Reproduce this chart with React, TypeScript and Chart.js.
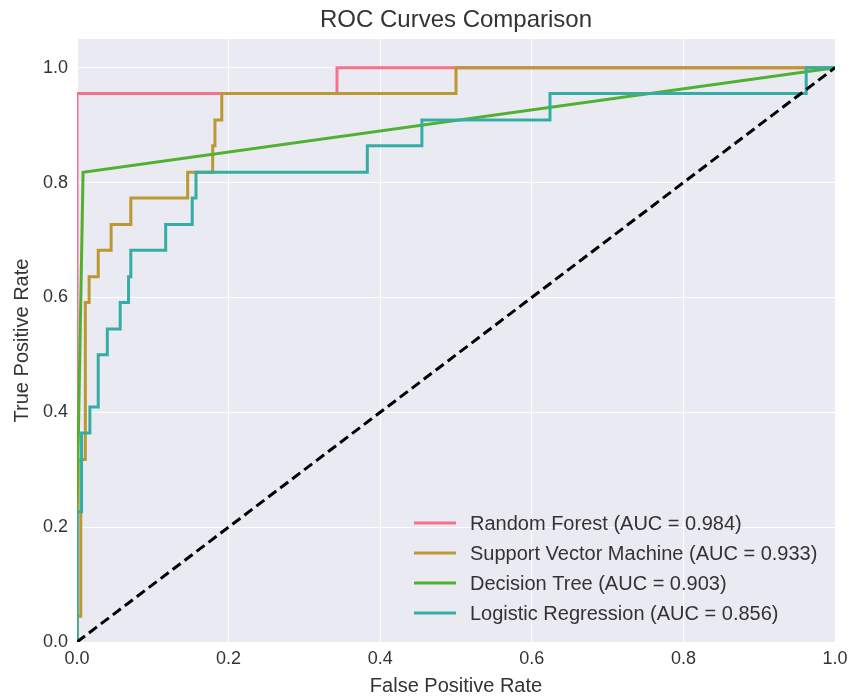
import React, { useEffect, useRef } from 'react';
import { Chart, registerables } from 'chart.js';

Chart.register(...registerables);

const TITLE = 'ROC Curves Comparison';
const X_TITLE = 'False Positive Rate';
const Y_TITLE = 'True Positive Rate';
const X_TICKS = [0, 0.2, 0.4, 0.6, 0.8, 1.0];
const Y_TICKS = [0, 0.2, 0.4, 0.6, 0.8, 1.0];

const SERIES_NAMES = [
  'Random Forest (AUC = 0.984)',
  'Support Vector Machine (AUC = 0.933)',
  'Decision Tree (AUC = 0.903)',
  'Logistic Regression (AUC = 0.856)',
];
const SERIES_COLORS = ['#f77189', '#bb9832', '#50b131', '#36ada4'];

const RF_FPR = [0, 0, 0.343, 0.343, 1];
const RF_TPR = [0, 0.955, 0.955, 1, 1];

const SVM_FPR = [0, 0, 0.005, 0.005, 0.011, 0.011, 0.016, 0.016, 0.028, 0.028, 0.045, 0.045, 0.071, 0.071, 0.146, 0.146, 0.179, 0.179, 0.182, 0.182, 0.191, 0.191, 0.5, 0.5, 1];
const SVM_TPR = [0, 0.045, 0.045, 0.318, 0.318, 0.591, 0.591, 0.636, 0.636, 0.682, 0.682, 0.727, 0.727, 0.773, 0.773, 0.818, 0.818, 0.864, 0.864, 0.909, 0.909, 0.955, 0.955, 1, 1];

const DT_FPR = [0, 0, 0.008, 1];
const DT_TPR = [0, 0.227, 0.818, 1];

const LR_FPR = [0, 0, 0.006, 0.006, 0.017, 0.017, 0.028, 0.028, 0.04, 0.04, 0.057, 0.057, 0.068, 0.068, 0.071, 0.071, 0.117, 0.117, 0.152, 0.152, 0.157, 0.157, 0.383, 0.383, 0.455, 0.455, 0.624, 0.624, 0.962, 0.962, 1];
const LR_TPR = [0, 0.227, 0.227, 0.364, 0.364, 0.409, 0.409, 0.5, 0.5, 0.545, 0.545, 0.591, 0.591, 0.636, 0.636, 0.682, 0.682, 0.727, 0.727, 0.773, 0.773, 0.818, 0.818, 0.864, 0.864, 0.909, 0.909, 0.955, 0.955, 1, 1];

const DIAG_X = [0, 1];
const DIAG_Y = [0, 1];

const FONT = "'Liberation Sans', Arial, sans-serif";
const TEXT_COLOR = '#333333';

const toPts = (xs: number[], ys: number[]) => xs.map((x, i) => ({ x, y: ys[i] }));

export default function App() {
  const ref = useRef<HTMLCanvasElement>(null);

  useEffect(() => {
    document.body.style.margin = '0';
    const canvas = ref.current;
    if (!canvas) return;

    const bgPlugin = {
      id: 'bgPlugin',
      beforeDraw(chart: any) {
        const { ctx, chartArea: a } = chart;
        ctx.save();
        ctx.fillStyle = '#EAEAF2';
        ctx.fillRect(a.left, a.top, a.right - a.left, a.bottom - a.top);
        ctx.restore();
      },
    };

    const overlayPlugin = {
      id: 'overlayPlugin',
      afterDraw(chart: any) {
        const { ctx, chartArea: a } = chart;
        ctx.save();
        ctx.fillStyle = TEXT_COLOR;
        ctx.font = `24px ${FONT}`;
        ctx.textAlign = 'center';
        ctx.textBaseline = 'middle';
        ctx.fillText(TITLE, (a.left + a.right) / 2, 20);
        ctx.font = `20px ${FONT}`;
        ctx.textAlign = 'left';
        for (let i = 0; i < SERIES_NAMES.length; i++) {
          const y = 523 + i * 30;
          ctx.strokeStyle = SERIES_COLORS[i];
          ctx.lineWidth = 3;
          ctx.beginPath();
          ctx.moveTo(414, y);
          ctx.lineTo(456, y);
          ctx.stroke();
          ctx.fillStyle = TEXT_COLOR;
          ctx.fillText(SERIES_NAMES[i], 470, y + 1);
        }
        ctx.restore();
      },
    };

    const mk = (label: string, xs: number[], ys: number[], color: string, order: number, dash?: number[]) => ({
      label,
      data: toPts(xs, ys),
      borderColor: color,
      backgroundColor: color,
      borderWidth: 3,
      pointRadius: 0,
      tension: 0,
      fill: false,
      order,
      borderDash: dash || [],
      borderCapStyle: 'butt',
      borderJoinStyle: 'miter',
    });

    const chart = new Chart(canvas, {
      type: 'line',
      data: {
        datasets: [
          mk(SERIES_NAMES[0], RF_FPR, RF_TPR, SERIES_COLORS[0], 5),
          mk(SERIES_NAMES[1], SVM_FPR, SVM_TPR, SERIES_COLORS[1], 4),
          mk(SERIES_NAMES[2], DT_FPR, DT_TPR, SERIES_COLORS[2], 3),
          mk(SERIES_NAMES[3], LR_FPR, LR_TPR, SERIES_COLORS[3], 2),
          mk('diagonal', DIAG_X, DIAG_Y, '#000000', 1, [10, 5]),
        ] as any,
      },
      options: {
        animation: false,
        responsive: false,
        events: [],
        layout: { padding: { top: 39, right: 15, left: 0, bottom: 0 } },
        plugins: {
          legend: { display: false },
          title: { display: false },
          tooltip: { enabled: false },
        },
        scales: {
          x: {
            type: 'linear',
            min: 0,
            max: 1,
            afterBuildTicks: (s: any) => {
              s.ticks = X_TICKS.map((v) => ({ value: v }));
            },
            afterFit: (s: any) => {
              s.height = 58;
              s.paddingLeft = 0;
              s.paddingRight = 0;
            },
            ticks: {
              callback: (v: any) => Number(v).toFixed(1),
              font: { family: FONT, size: 18 },
              color: TEXT_COLOR,
              padding: 6,
              maxRotation: 0,
            },
            grid: { color: '#ffffff', lineWidth: 1, drawTicks: false },
            border: { display: false },
            title: {
              display: true,
              text: X_TITLE,
              font: { family: FONT, size: 20 },
              color: TEXT_COLOR,
              padding: { top: 0, bottom: 2 },
            },
          },
          y: {
            type: 'linear',
            min: 0,
            max: 1.05,
            afterBuildTicks: (s: any) => {
              s.ticks = Y_TICKS.map((v) => ({ value: v }));
            },
            afterFit: (s: any) => {
              s.width = 77;
              s.paddingTop = 0;
              s.paddingBottom = 0;
            },
            ticks: {
              callback: (v: any) => Number(v).toFixed(1),
              font: { family: FONT, size: 18 },
              color: TEXT_COLOR,
              padding: 9,
            },
            grid: { color: '#ffffff', lineWidth: 1, drawTicks: false },
            border: { display: false },
            title: {
              display: true,
              text: Y_TITLE,
              font: { family: FONT, size: 20 },
              color: TEXT_COLOR,
              padding: { top: 10, bottom: 0 },
            },
          },
        },
      } as any,
      plugins: [bgPlugin, overlayPlugin],
    });

    return () => chart.destroy();
  }, []);

  return (
    <div style={{ width: 850, height: 700 }}>
      <canvas ref={ref} width={850} height={700} />
    </div>
  );
}
